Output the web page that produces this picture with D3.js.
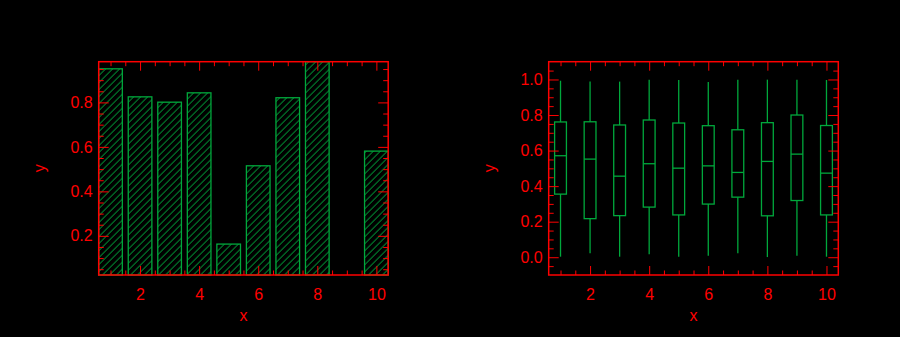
<!DOCTYPE html>
<html>
<head>
<meta charset="utf-8">
<script src="https://cdn.jsdelivr.net/npm/d3@7"></script>
<style>
  html, body { margin: 0; padding: 0; background: #000; }
  svg { display: block; }
  text { font-family: "Liberation Sans", Arial, Helvetica, sans-serif; }
</style>
</head>
<body>
<svg id="chart" width="900" height="337"></svg>
<script>
// ---- data ----
const categories = [1, 2, 3, 4, 5, 6, 7, 8, 9, 10];
const barValues = [0.951, 0.825, 0.801, 0.843, 0.163, 0.515, 0.821, 0.983, 0.024, 0.581];

const boxMin    = [0.003, 0.023, 0.003, 0.017, 0.002, 0.009, 0.023, 0.001, 0.009, 0.003];
const boxQ1     = [0.355, 0.217, 0.234, 0.282, 0.238, 0.299, 0.338, 0.233, 0.319, 0.238];
const boxMedian = [0.571, 0.552, 0.456, 0.526, 0.501, 0.514, 0.477, 0.539, 0.580, 0.473];
const boxQ3     = [0.761, 0.762, 0.744, 0.772, 0.755, 0.740, 0.717, 0.757, 0.800, 0.741];
const boxMax    = [0.993, 0.988, 0.988, 0.999, 0.997, 0.986, 0.999, 0.999, 0.999, 0.997];

const xDomain = [0.6, 10.4];
const xMajorTicks = [2, 4, 6, 8, 10];
const leftYMajorTicks = [0.2, 0.4, 0.6, 0.8];
const rightYDomain = [-0.1, 1.1];
const rightYMajorTicks = [0.0, 0.2, 0.4, 0.6, 0.8, 1.0];

// ---- style ----
const RED = "#ff0000";
const GREEN = "#00a83c";
const HATCH = "#00c044";

const svg = d3.select("#chart");
const defs = svg.append("defs");
const pat = defs.append("pattern")
  .attr("id", "hatch")
  .attr("patternUnits", "userSpaceOnUse")
  .attr("width", 7).attr("height", 7);
pat.append("path")
  .attr("d", "M-2,2 l4,-4 M0,7 l7,-7 M5,9 l4,-4")
  .attr("stroke", HATCH).attr("stroke-width", 1).attr("fill", "none")
  .attr("shape-rendering", "crispEdges");

function range(a, b, step) {
  const out = [];
  for (let v = a; v <= b + 1e-9; v += step) out.push(Math.round(v * 1000) / 1000);
  return out;
}

function drawFrame(g, x, y, w, h, yMajor, yMinor) {
  const xMajorLen = 9, xMinorLen = 4.5, yMajorLen = 10, yMinorLen = 5;
  const xMinor = range(1, 10, 0.5).filter(v => !xMajorTicks.includes(v) && v >= x.domain()[0] && v <= x.domain()[1]);

  const style = sel => {
    sel.selectAll("path.domain").attr("stroke", RED).attr("stroke-width", 1.5);
    sel.selectAll(".tick line").attr("stroke", RED).attr("stroke-width", 1);
    sel.selectAll(".tick text").attr("fill", RED).attr("font-size", 16);
  };

  // bottom
  g.append("g").attr("transform", `translate(0,${h})`)
    .call(d3.axisBottom(x).tickValues(xMinor).tickSizeInner(-xMinorLen).tickSizeOuter(0).tickFormat(""))
    .call(style);
  g.append("g").attr("transform", `translate(0,${h})`)
    .call(d3.axisBottom(x).tickValues(xMajorTicks).tickSizeInner(-xMajorLen).tickSizeOuter(0).tickPadding(14).tickFormat(d3.format("d")))
    .call(style);
  // top
  g.append("g")
    .call(d3.axisTop(x).tickValues(xMinor).tickSizeInner(-xMinorLen).tickSizeOuter(0).tickFormat(""))
    .call(style);
  g.append("g")
    .call(d3.axisTop(x).tickValues(xMajorTicks).tickSizeInner(-xMajorLen).tickSizeOuter(0).tickFormat(""))
    .call(style);
  // left
  g.append("g")
    .call(d3.axisLeft(y).tickValues(yMinor).tickSizeInner(-yMinorLen).tickSizeOuter(0).tickFormat(""))
    .call(style);
  g.append("g")
    .call(d3.axisLeft(y).tickValues(yMajor).tickSizeInner(-yMajorLen).tickSizeOuter(0).tickPadding(6).tickFormat(d3.format(".1f")))
    .call(style);
  // right
  g.append("g").attr("transform", `translate(${w},0)`)
    .call(d3.axisRight(y).tickValues(yMinor).tickSizeInner(-yMinorLen).tickSizeOuter(0).tickFormat(""))
    .call(style);
  g.append("g").attr("transform", `translate(${w},0)`)
    .call(d3.axisRight(y).tickValues(yMajor).tickSizeInner(-yMajorLen).tickSizeOuter(0).tickFormat(""))
    .call(style);

  g.selectAll(".domain").attr("d", null);
  g.append("rect").attr("x", 0).attr("y", 0).attr("width", w).attr("height", h)
    .attr("fill", "none").attr("stroke", RED).attr("stroke-width", 1.5);

  // axis titles
  g.append("text").attr("x", w / 2).attr("y", h + 46).attr("text-anchor", "middle")
    .attr("fill", RED).attr("font-size", 16).text("x");
  g.append("text").attr("transform", `translate(-59,${h / 2}) rotate(-90)`)
    .attr("text-anchor", "middle").attr("dy", "0.35em")
    .attr("fill", RED).attr("font-size", 16).text("y");
}

// ---- left panel: hatched bars ----
{
  const L = 98.7, T = 61.7, W = 289.5, H = 213.3;
  const g = svg.append("g").attr("transform", `translate(${L},${T})`);
  const x = d3.scaleLinear().domain(xDomain).range([0, W]);
  const y = d3.scaleLinear().domain(d3.extent(barValues)).range([H, 0]);
  const yMinor = range(0.05, 0.95, 0.05).filter(v => v >= y.domain()[0] && v <= y.domain()[1] && !leftYMajorTicks.some(m => Math.abs(m - v) < 1e-6));
  const bw = 0.8;

  g.selectAll("rect.bar").data(categories).enter().append("rect")
    .attr("class", "bar")
    .attr("x", (d) => x(d - bw / 2))
    .attr("width", (d) => x(d + bw / 2) - x(d - bw / 2))
    .attr("y", (d, i) => y(barValues[i]))
    .attr("height", (d, i) => y(y.domain()[0]) - y(barValues[i]))
    .attr("fill", "url(#hatch)")
    .attr("stroke", GREEN).attr("stroke-width", 1.3);

  drawFrame(g, x, y, W, H, leftYMajorTicks, yMinor);
}

// ---- right panel: box plots ----
{
  const L = 548.7, T = 61.7, W = 289.6, H = 213.3;
  const g = svg.append("g").attr("transform", `translate(${L},${T})`);
  const x = d3.scaleLinear().domain(xDomain).range([0, W]);
  const y = d3.scaleLinear().domain(rightYDomain).range([H, 0]);
  const yMinor = range(-0.05, 1.05, 0.05).filter(v => !rightYMajorTicks.some(m => Math.abs(m - v) < 1e-6));
  const bw = 0.4;

  const boxes = g.selectAll("g.box").data(categories).enter().append("g").attr("class", "box");
  boxes.append("line")
    .attr("x1", d => x(d)).attr("x2", d => x(d))
    .attr("y1", (d, i) => y(boxQ3[i])).attr("y2", (d, i) => y(boxMax[i]))
    .attr("stroke", GREEN).attr("stroke-width", 1.3);
  boxes.append("line")
    .attr("x1", d => x(d)).attr("x2", d => x(d))
    .attr("y1", (d, i) => y(boxQ1[i])).attr("y2", (d, i) => y(boxMin[i]))
    .attr("stroke", GREEN).attr("stroke-width", 1.3);
  boxes.append("rect")
    .attr("x", d => x(d - bw / 2))
    .attr("width", d => x(d + bw / 2) - x(d - bw / 2))
    .attr("y", (d, i) => y(boxQ3[i]))
    .attr("height", (d, i) => y(boxQ1[i]) - y(boxQ3[i]))
    .attr("fill", "none").attr("stroke", GREEN).attr("stroke-width", 1.3);
  boxes.append("line")
    .attr("x1", d => x(d - bw / 2)).attr("x2", d => x(d + bw / 2))
    .attr("y1", (d, i) => y(boxMedian[i])).attr("y2", (d, i) => y(boxMedian[i]))
    .attr("stroke", GREEN).attr("stroke-width", 1.3);

  drawFrame(g, x, y, W, H, rightYMajorTicks, yMinor);
}
</script>
</body>
</html>
